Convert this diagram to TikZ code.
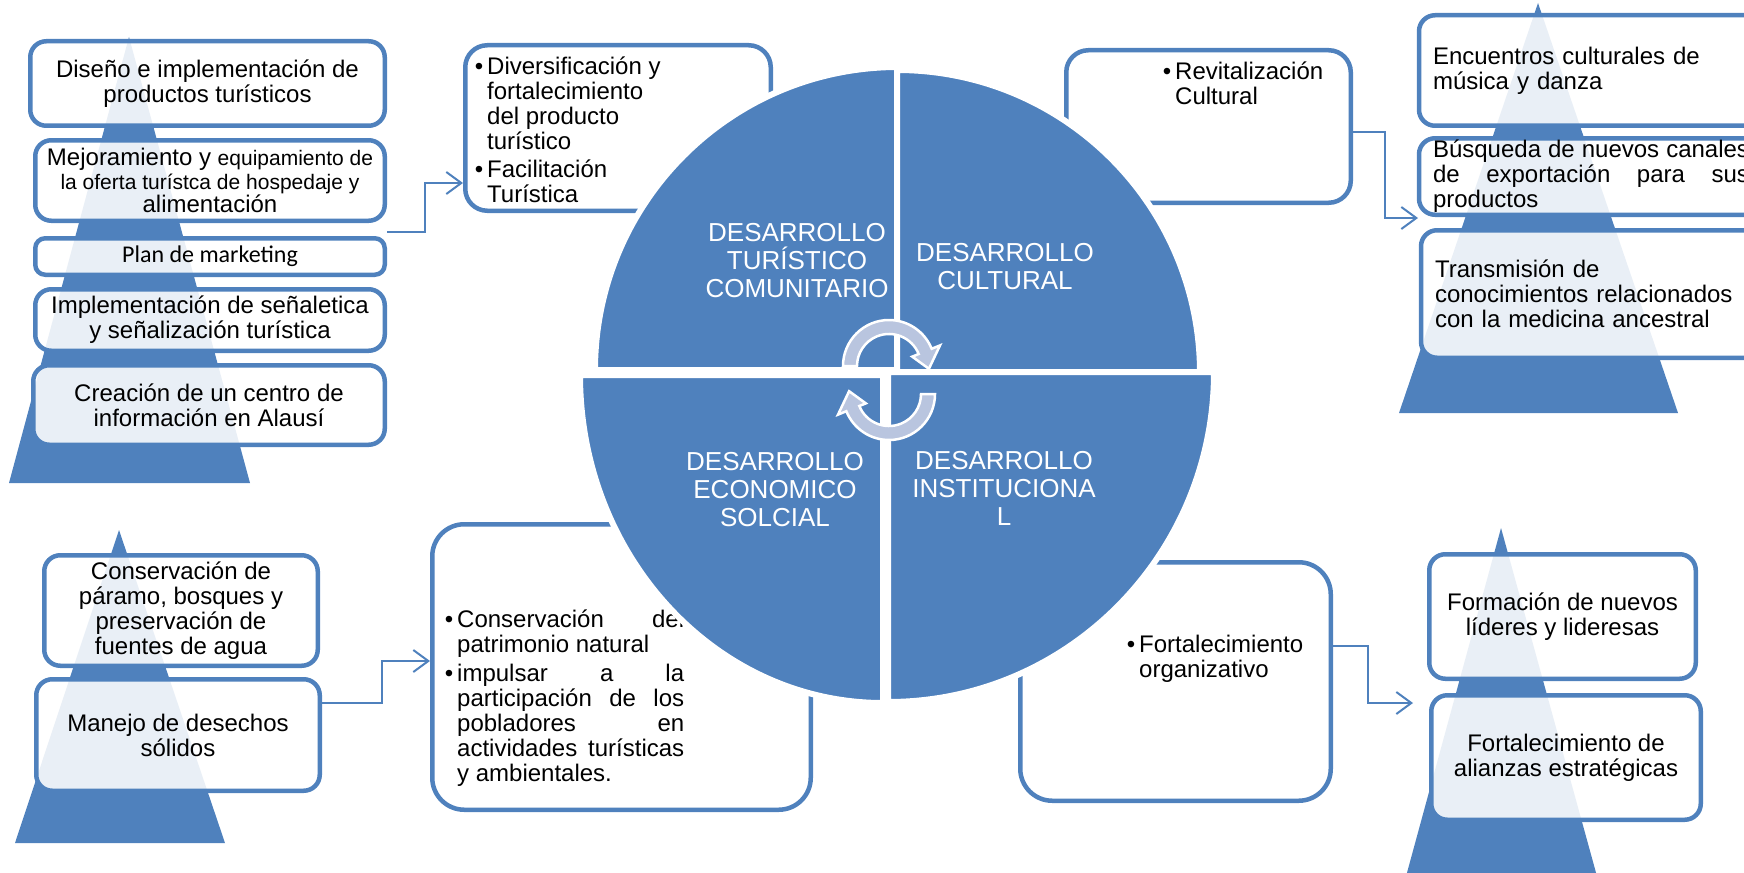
\documentclass[tikz,border=0pt]{standalone}
\usepackage{fontspec}
\setmainfont{Liberation Sans}
\newfontfamily\calibri{Carlito}
\usetikzlibrary{arrows.meta}
\definecolor{cblue}{RGB}{79,129,189}
\definecolor{cycfill}{RGB}{185,197,223}
\newcommand{\bul}{\llap{\textbullet\kern4pt}}
\newcommand{\jline}[2]{\makebox[#1][s]{\spaceskip=0pt\relax#2}}
\tikzset{
  pbox/.style={draw=cblue, line width=4.5pt, fill=white, fill opacity=0.88, text opacity=1,
    rounded corners=16pt, inner sep=0pt, align=center, font=\fontsize{24}{25}\selectfont},
  cbox/.style={draw=cblue, line width=4.5pt, fill=white, rounded corners=24pt, inner sep=0pt},
  btxt/.style={anchor=north west, inner sep=0pt, align=left, font=\fontsize{24}{25}\selectfont},
  qtxt/.style={text=white, align=center, font=\fontsize{26}{28}\selectfont},
  sector/.style={fill=cblue, draw=white, line width=6pt},
  cyc/.style={fill=cycfill, draw=white, line width=2.5pt},
  conn/.style={draw=cblue, line width=2pt, -{Straight Barb[length=15pt,width=22pt]}},
}
\begin{document}
\begin{tikzpicture}[x=1pt,y=-1pt]
  \useasboundingbox (0,0) rectangle (1744,872);
  \clip (0,0) rectangle (1744,872);

  \fill[cblue] (129,37) -- (250,483) -- (9,483) -- cycle;
  \fill[cblue] (1538,3) -- (1678,413) -- (1399,413) -- cycle;
  \fill[cblue] (119,530) -- (225,843) -- (15,843) -- cycle;
  \fill[cblue] (1501,528) -- (1598,880) -- (1405,880) -- cycle;

  \node[pbox, minimum width=354.5pt, minimum height=84.5pt] (a1) at (207.5,83.5) {Diseño e implementación de\\productos turísticos};
  \node[pbox, minimum width=349.5pt, minimum height=80.5pt, font=\fontsize{24}{23.5}\selectfont] (a2) at (210,180.5)
    {Mejoramiento y {\fontsize{21}{23.5}\selectfont equipamiento de}\\{\fontsize{21}{23.5}\selectfont la oferta turístca de hospedaje y}\\alimentación};
  \node[pbox, rounded corners=10pt, minimum width=349.5pt, minimum height=36.5pt, font=\calibri\fontsize{24}{25}\selectfont] (a3) at (210,256.5) {Plan de marketing};
  \node[pbox, minimum width=349.5pt, minimum height=61.5pt] (a4) at (210,320) {Implementación de señaletica\\y señalización turística};
  \node[pbox, minimum width=351.5pt, minimum height=79.5pt] (a5) at (209,405) {Creación de un centro de\\información en Alausí};

  \node[pbox, align=left, text width=330pt, inner xsep=14pt, minimum height=110.5pt] (b1) at (1598,70.5) {Encuentros culturales de\\música y danza};
  \node[pbox, align=left, text width=330pt, inner xsep=14pt, minimum height=76.5pt] (b2) at (1598,176.5)
    {\jline{316pt}{Búsqueda de nuevos canales}\\\jline{316pt}{de exportación para sus}\\productos};
  \node[pbox, align=left, text width=330pt, inner xsep=14pt, minimum height=127.5pt] (b3) at (1600,294) {Transmisión de\\conocimientos relacionados\\con la medicina ancestral};

  \node[pbox, minimum width=273.5pt, minimum height=110.5pt] (c1) at (181,610.5) {Conservación de\\páramo, bosques y\\preservación de\\fuentes de agua};
  \node[pbox, minimum width=283.5pt, minimum height=111.5pt] (c2) at (178,735) {Manejo de desechos\\sólidos};

  \node[pbox, minimum width=266.5pt, minimum height=124.5pt] (d1) at (1562.5,616.5) {Formación de nuevos\\líderes y lideresas};
  \node[pbox, minimum width=269.5pt, minimum height=124.5pt] (d2) at (1566,757.5) {Fortalecimiento de\\alianzas estratégicas};

  \node[cbox, rounded corners=22pt, minimum width=305.5pt, minimum height=165.5pt] (div) at (618,128) {};
  \node[cbox, rounded corners=22pt, minimum width=284.5pt, minimum height=152.5pt] (revit) at (1208.5,126.5) {};
  \node[cbox, rounded corners=32pt, minimum width=378.5pt, minimum height=285.5pt] (cons) at (621.5,667) {};
  \node[cbox, rounded corners=32pt, minimum width=310.5pt, minimum height=238.5pt] (fort) at (1175.5,681.5) {};

  \node[btxt] (divt) at (487,57) {\bul Diversificación y\\fortalecimiento\\del producto\\turístico\\[3pt]\bul Facilitación\\Turística};
  \node[btxt] (revt) at (1175,62) {\bul Revitalización\\Cultural};
  \node[btxt] (cont) at (457,610) {\bul\jline{227pt}{Conservación del}\\patrimonio natural\\[4pt]\bul\jline{227pt}{impulsar a la}\\\jline{227pt}{participación de los}\\\jline{227pt}{pobladores en}\\\jline{227pt}{actividades turísticas}\\y ambientales.};
  \node[btxt] (fortt) at (1139,635) {\bul Fortalecimiento\\organizativo};

  \coordinate (aout) at (387,232);
  \coordinate (bin) at (1418,218);
  \coordinate (din) at (1413,703);
  \draw[conn] (aout) -- ++(38,0) |- ([yshift=-55pt]div.west);
  \draw[conn] ([yshift=-5.5pt]revit.east) -- ++(32,0) |- (bin);
  \draw[conn] ([yshift=32pt]c2.east) -- ++(60,0) |- ([yshift=6pt]cons.west);
  \draw[conn] ([yshift=35.5pt]fort.east) -- ++(35,0) |- (din);

  \path[sector] (898,370) -- (595,370) arc[start angle=180, end angle=270, radius=303] -- cycle;
  \path[sector] (897,373) -- (897,70) arc[start angle=270, end angle=360, radius=303] -- cycle;
  \path[sector] (888,372) -- (1214,372) arc[start angle=0, end angle=90, x radius=326, y radius=330] -- cycle;
  \path[sector] (883,375) -- (883,703) arc[start angle=90, end angle=180, x radius=303, y radius=328] -- cycle;

  \node[qtxt] (qtur) at (797,261) {DESARROLLO\\TURÍSTICO\\COMUNITARIO};
  \node[qtxt] (qcul) at (1005,267) {DESARROLLO\\CULTURAL};
  \node[qtxt] (qeco) at (775,490) {DESARROLLO\\ECONOMICO\\SOLCIAL};
  \node[qtxt] (qins) at (1004,488) {DESARROLLO\\INSTITUCIONA\\L};

  \begin{scope}[shift={(889,366)}, yscale=-1]
    \path[cyc] (180:46) arc[start angle=180, end angle=22, radius=46] -- (22:55) -- (-4:40) -- (22:25) -- (22:32) arc[start angle=22, end angle=180, radius=32] -- cycle;
  \end{scope}
  \begin{scope}[shift={(889,394)}, yscale=-1, rotate=180]
    \path[cyc] (180:46) arc[start angle=180, end angle=22, radius=46] -- (22:55) -- (-4:40) -- (22:25) -- (22:32) arc[start angle=22, end angle=180, radius=32] -- cycle;
  \end{scope}
\end{tikzpicture}
\end{document}
